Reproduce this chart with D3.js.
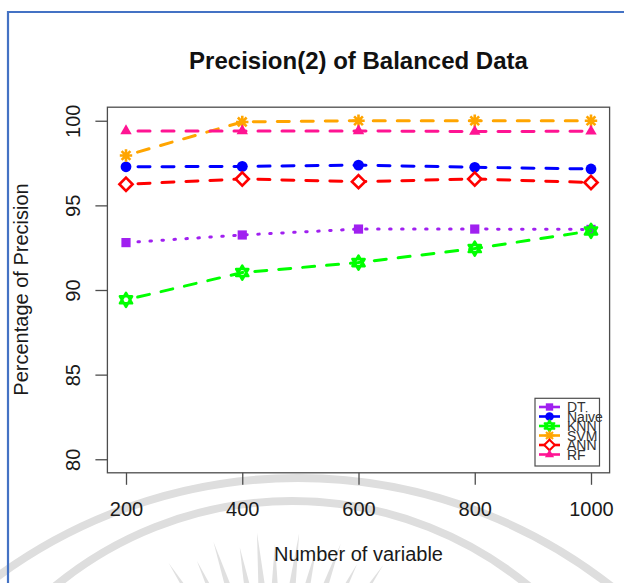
<!DOCTYPE html>
<html>
<head>
<meta charset="utf-8">
<script src="https://cdn.jsdelivr.net/npm/d3@7/dist/d3.min.js"></script>
<style>
  html, body { margin: 0; padding: 0; background: #fff; }
  svg { display: block; font-family: "Liberation Sans", Arial, Helvetica, sans-serif; }
</style>
</head>
<body>
<svg id="chart" width="624" height="583"></svg>
<script>
// ---- data ----
const variableCounts = [200, 400, 600, 800, 1000];
const seriesNames = ["DT", "Naive", "KNN", "SVM", "ANN", "RF"];
const dtValues    = [92.80, 93.25, 93.60, 93.60, 93.58];
const naiveValues = [97.28, 97.30, 97.38, 97.25, 97.15];
const knnValues   = [89.42, 91.03, 91.62, 92.45, 93.49];
const svmValues   = [97.95, 99.93, 100.0, 100.0, 100.0];
const annValues   = [96.25, 96.56, 96.40, 96.56, 96.35];
const rfValues    = [99.40, 99.40, 99.40, 99.36, 99.38];
const yTickValues = [80, 85, 90, 95, 100];
const xTickValues = [200, 400, 600, 800, 1000];

const chartTitle = "Precision(2) of Balanced Data";
const xTitle = "Number of variable";
const yTitle = "Percentage of Precision";

// ---- styling per series ----
const seriesStyle = {
  DT:    { color: "#A020F0", dash: "1.5,10.5", shape: "square" },
  Naive: { color: "#0000FF", dash: "12,12",    shape: "circle" },
  KNN:   { color: "#00FF00", dash: "12,12",    shape: "david" },
  SVM:   { color: "#FFA500", dash: "12,12",    shape: "asterisk" },
  ANN:   { color: "#FF0000", dash: "12,12",    shape: "diamond" },
  RF:    { color: "#FF1493", dash: "12,12",    shape: "triangle" }
};
const seriesValues = {
  DT: dtValues, Naive: naiveValues, KNN: knnValues,
  SVM: svmValues, ANN: annValues, RF: rfValues
};

const svg = d3.select("#chart");

// ---- page decoration: frame and faint emblem ----
const deco = svg.append("g").attr("class", "decoration");
const faint = "#dedede";
deco.append("circle").attr("cx", 298).attr("cy", 985).attr("r", 507)
  .attr("fill", "none").attr("stroke", faint).attr("stroke-width", 8);
deco.append("circle").attr("cx", 292).attr("cy", 873).attr("r", 372)
  .attr("fill", "none").attr("stroke", faint).attr("stroke-width", 8);
const rayAngles = [-137, -130, -122.7, -114.9, -108.1, -100.8, -95, -89.7, -82.6, -76.7, -70, -63, -56];
rayAngles.forEach((a, i) => {
  const t = a * Math.PI / 180;
  const rOut = i % 2 === 0 ? 195 : 183;
  const rIn = 120;
  const cx = 274, cy = 727;
  const w = 2.2 * Math.PI / 180;
  const p = [
    [cx + rOut * Math.cos(t), cy + rOut * Math.sin(t)],
    [cx + rIn * Math.cos(t - w), cy + rIn * Math.sin(t - w)],
    [cx + rIn * Math.cos(t + w), cy + rIn * Math.sin(t + w)]
  ];
  deco.append("path").attr("d", "M" + p.join("L") + "Z").attr("fill", "#e0e0e0");
});
deco.append("path").attr("d", "M8,583 L8,12 L624,12")
  .attr("fill", "none").attr("stroke", "#4472C4").attr("stroke-width", 2.2);

// ---- scales (R-style 4% padding around the data range) ----
const x = d3.scaleLinear().domain([168, 1032]).range([107.4, 609.6]);
const y = d3.scaleLinear().domain([79.2, 100.8]).range([472.8, 107.2]);

const axisColor = "#4d4d4d";

// plot box
svg.append("rect")
  .attr("x", x(168)).attr("y", y(100.8))
  .attr("width", x(1032) - x(168)).attr("height", y(79.2) - y(100.8))
  .attr("fill", "none").attr("stroke", axisColor).attr("stroke-width", 1.3);

// y axis
const gy = svg.append("g").attr("transform", `translate(${x(168)},0)`)
  .call(d3.axisLeft(y).tickValues(yTickValues).tickFormat(d3.format("d")).tickSize(12).tickSizeOuter(0));
gy.select(".domain").remove();
gy.selectAll(".tick line").attr("stroke", axisColor).attr("stroke-width", 1.3);
gy.selectAll(".tick text")
  .attr("x", 0).attr("dy", 0)
  .attr("text-anchor", "middle")
  .attr("transform", "translate(-27,0) rotate(-90)")
  .attr("fill", "#1a1a1a")
  .style("font-size", "20px");

// x axis
const gx = svg.append("g").attr("transform", `translate(0,${y(79.2)})`)
  .call(d3.axisBottom(x).tickValues(xTickValues).tickFormat(d3.format("d")).tickSize(12).tickSizeOuter(0));
gx.select(".domain").remove();
gx.selectAll(".tick line").attr("stroke", axisColor).attr("stroke-width", 1.3);
gx.selectAll(".tick text")
  .attr("y", 43).attr("dy", 0)
  .attr("fill", "#1a1a1a")
  .style("font-size", "20px");

// titles
svg.append("text").attr("x", 358.5).attr("y", 69)
  .attr("text-anchor", "middle").style("font-size", "24px").style("font-weight", "bold")
  .attr("fill", "#111").text(chartTitle);
svg.append("text").attr("x", 358.5).attr("y", 561)
  .attr("text-anchor", "middle").style("font-size", "20px")
  .attr("fill", "#1a1a1a").text(xTitle);
svg.append("text").attr("transform", "translate(28,289.5) rotate(-90)")
  .attr("text-anchor", "middle").style("font-size", "20px")
  .attr("fill", "#1a1a1a").text(yTitle);

// ---- marker drawing ----
function drawMarker(g, shape, color, cx, cy, s) {
  const k = s || 1;
  if (shape === "square") {
    const h = 4.6 * k;
    g.append("rect").attr("x", cx - h).attr("y", cy - h).attr("width", 2 * h).attr("height", 2 * h)
      .attr("fill", color);
  } else if (shape === "circle") {
    g.append("circle").attr("cx", cx).attr("cy", cy).attr("r", 5.4 * k).attr("fill", color);
  } else if (shape === "triangle") {
    const r = 6.6 * k;
    const pts = [[cx, cy - r], [cx + r * 0.866, cy + r * 0.5], [cx - r * 0.866, cy + r * 0.5]];
    g.append("path").attr("d", "M" + pts.join("L") + "Z").attr("fill", color);
  } else if (shape === "diamond") {
    const r = 6.6 * k;
    g.append("path").attr("d", `M${cx},${cy - r}L${cx + r},${cy}L${cx},${cy + r}L${cx - r},${cy}Z`)
      .attr("fill", "#fff").attr("stroke", color).attr("stroke-width", 2.6 * k);
  } else if (shape === "asterisk") {
    const r = 6.2 * k, d = r * 0.7071;
    g.append("path")
      .attr("d", `M${cx - r},${cy}L${cx + r},${cy}M${cx},${cy - r}L${cx},${cy + r}` +
                 `M${cx - d},${cy - d}L${cx + d},${cy + d}M${cx - d},${cy + d}L${cx + d},${cy - d}`)
      .attr("stroke", color).attr("stroke-width", 2.6 * k).attr("fill", "none");
  } else if (shape === "david") {
    const r = 7 * k;
    const up = [[cx, cy - r], [cx + r * 0.866, cy + r * 0.5], [cx - r * 0.866, cy + r * 0.5]];
    const dn = [[cx, cy + r], [cx + r * 0.866, cy - r * 0.5], [cx - r * 0.866, cy - r * 0.5]];
    g.append("path").attr("d", "M" + up.join("L") + "Z" + "M" + dn.join("L") + "Z")
      .attr("fill", "none").attr("stroke", color).attr("stroke-width", 2.6 * k)
      .attr("stroke-linejoin", "round");
  }
}

// ---- series lines and markers ----
const line = d3.line().x(d => x(d[0])).y(d => y(d[1]));
seriesNames.forEach(name => {
  const st = seriesStyle[name];
  const pts = variableCounts.map((v, i) => [v, seriesValues[name][i]]);
  const g = svg.append("g").attr("class", "series-" + name);
  g.append("path").attr("d", line(pts))
    .attr("fill", "none").attr("stroke", st.color).attr("stroke-width", 3)
    .attr("stroke-dasharray", st.dash).attr("stroke-dashoffset", name === "DT" ? 0 : 12)
    .attr("stroke-linecap", "round");
  pts.forEach(p => drawMarker(g, st.shape, st.color, x(p[0]), y(p[1]), 1));
});

// ---- legend (tightly packed rows) ----
const legend = svg.append("g").attr("class", "legend");
legend.append("rect").attr("x", 535).attr("y", 398.3).attr("width", 64.5).attr("height", 67.7)
  .attr("fill", "#fff").attr("stroke", axisColor).attr("stroke-width", 1.2);
seriesNames.forEach((name, i) => {
  const st = seriesStyle[name];
  const ly = 407 + i * 9.5;
  legend.append("line").attr("x1", 539).attr("x2", 560).attr("y1", ly).attr("y2", ly)
    .attr("stroke", st.color).attr("stroke-width", 2.6);
  drawMarker(legend, st.shape, st.color, 549.5, ly, 0.8);
  legend.append("text").attr("x", 567).attr("y", ly + 5)
    .style("font-size", "14px").attr("fill", "#333").text(name);
});
</script>
</body>
</html>
